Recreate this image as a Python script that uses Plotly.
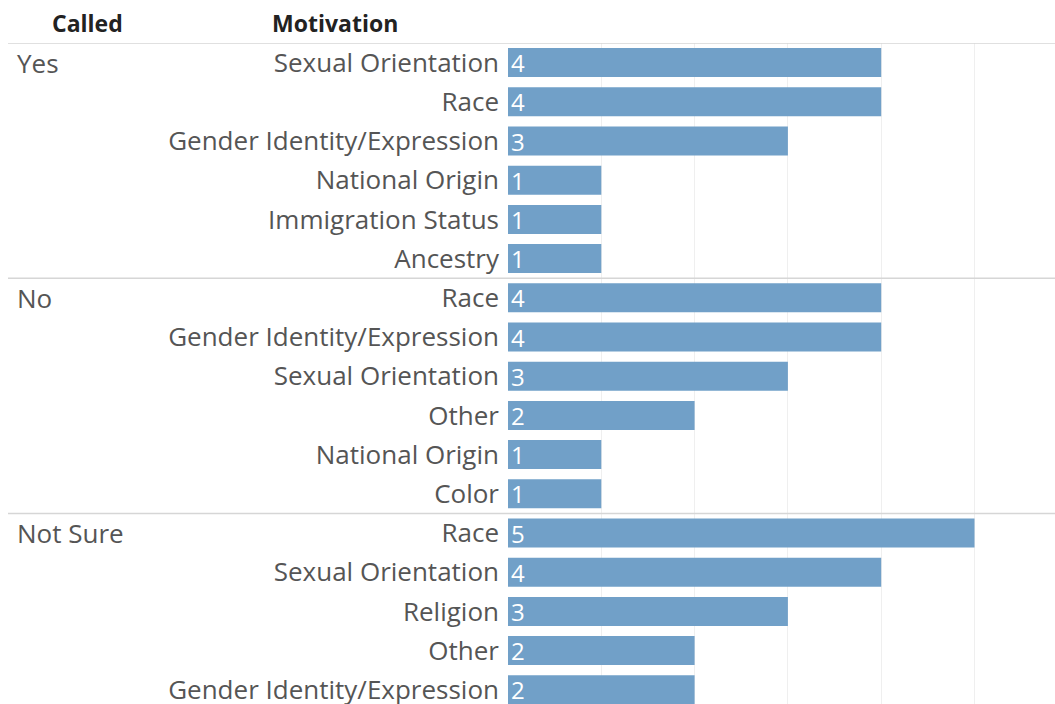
import plotly.graph_objects as go

# Survey responses: motivation counts grouped by whether the incident was reported ("Called")
called_groups = ["Yes", "No", "Not Sure"]
yes_motivations = ["Sexual Orientation", "Race", "Gender Identity/Expression",
                   "National Origin", "Immigration Status", "Ancestry"]
yes_counts = [4, 4, 3, 1, 1, 1]
no_motivations = ["Race", "Gender Identity/Expression", "Sexual Orientation",
                  "Other", "National Origin", "Color"]
no_counts = [4, 4, 3, 2, 1, 1]
notsure_motivations = ["Race", "Sexual Orientation", "Religion", "Other",
                       "Gender Identity/Expression"]
notsure_counts = [5, 4, 3, 2, 2]

groups = [
    (called_groups[0], yes_motivations, yes_counts),
    (called_groups[1], no_motivations, no_counts),
    (called_groups[2], notsure_motivations, notsure_counts),
]

W, H = 1055, 704
TOP = 43
ROW = 39.2
BAR_X0 = 508
UNIT = 93.3

labels, values, rows = [], [], []
group_start = []
r = 0
for name, motivs, counts in groups:
    group_start.append((name, r))
    for m, c in zip(motivs, counts):
        labels.append(m)
        values.append(c)
        rows.append(r)
        r += 1

plot_h = H - TOP
y_bottom = -0.5 + plot_h / ROW
x_max = (W - BAR_X0) / UNIT

FONT = "Open Sans"
TXT = "#555555"
LABEL_SIZE = 26

fig = go.Figure(go.Bar(
    x=values,
    y=rows,
    orientation="h",
    width=0.74,
    marker=dict(color="#71a0c8", line=dict(width=0)),
    text=[str(v) for v in values],
    textposition="inside",
    insidetextanchor="start",
    textangle=0,
    textfont=dict(color="white", size=24, family=FONT),
    constraintext="none",
    cliponaxis=True,
    hoverinfo="skip",
))

shapes = []
# group separators
for name, start in group_start:
    shapes.append(dict(type="line", xref="paper", yref="y",
                       x0=8 / W, x1=1, y0=start - 0.5, y1=start - 0.5,
                       line=dict(color="#d6d6d6", width=1.5), layer="above"))

head_y = 1 + (TOP - 23) / plot_h
annotations = [
    dict(text="<b>Called</b>", x=50 / W, y=head_y, xref="paper", yref="paper",
         xanchor="left", yanchor="middle", showarrow=False,
         font=dict(family=FONT, size=23, color="#222222")),
    dict(text="<b>Motivation</b>", x=270 / W, y=head_y, xref="paper", yref="paper",
         xanchor="left", yanchor="middle", showarrow=False,
         font=dict(family=FONT, size=23, color="#222222")),
]
for name, start in group_start:
    annotations.append(dict(text=name, x=15 / W, y=start, xref="paper", yref="y",
                            xanchor="left", yanchor="middle", showarrow=False,
                            font=dict(family=FONT, size=LABEL_SIZE, color=TXT)))

fig.update_layout(
    width=W, height=H,
    margin=dict(l=0, r=0, t=TOP, b=0, autoexpand=False),
    paper_bgcolor="white", plot_bgcolor="white",
    showlegend=False,
    shapes=shapes,
    annotations=annotations,
    xaxis=dict(domain=[BAR_X0 / W, 1], range=[0, x_max], dtick=1, tick0=0,
               showgrid=True, gridcolor="#efefef", gridwidth=1,
               zeroline=False, showticklabels=False, showline=False, fixedrange=True),
    yaxis=dict(range=[y_bottom, -0.5], tickmode="array", tickvals=rows, ticktext=labels,
               showgrid=False, zeroline=False, showline=False, ticks="",
               ticklabelstandoff=8, ticklabeloverflow="allow", automargin=False,
               tickfont=dict(family=FONT, size=LABEL_SIZE, color=TXT), fixedrange=True),
    uniformtext=dict(mode=False),
)

fig.write_html("out.html")
